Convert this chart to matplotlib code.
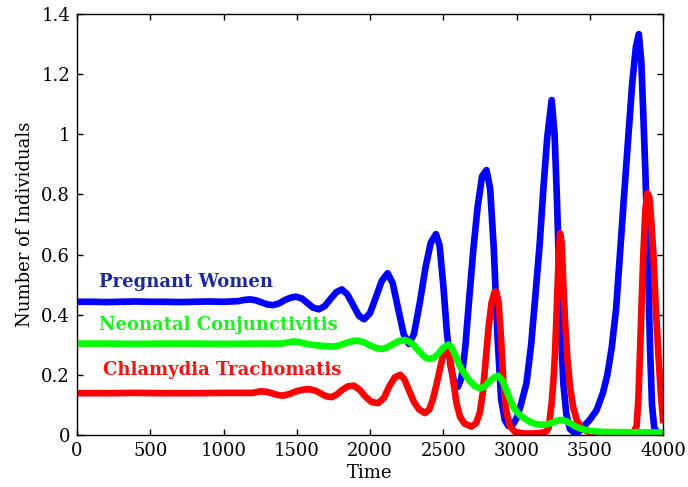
import matplotlib
matplotlib.use('Agg')

import matplotlib.pyplot as plt

# Pregnant Women (blue)
t_women = [0, 100, 200, 300, 400, 500, 600, 700, 800, 900, 1000, 1100, 1140, 1180, 1220,
           1260, 1300, 1340, 1380, 1420, 1460, 1495, 1535, 1570, 1610, 1650, 1690, 1730,
           1770, 1808, 1845, 1885, 1925, 1960, 2000, 2040, 2080, 2120, 2155, 2190, 2230,
           2265, 2300, 2340, 2380, 2415, 2450, 2475, 2500, 2525, 2550, 2575, 2600, 2625,
           2650, 2675, 2705, 2735, 2765, 2795, 2820, 2845, 2870, 2895, 2920, 2945, 2975,
           3000, 3030, 3068, 3100, 3130, 3159, 3185, 3210, 3240, 3260, 3275, 3290, 3305,
           3320, 3340, 3365, 3400, 3430, 3456, 3500, 3547, 3590, 3620, 3650, 3680, 3706,
           3735, 3763, 3790, 3815, 3835, 3852, 3866, 3880, 3895, 3911, 3925, 3940, 3960,
           4000]
women = [0.443, 0.443, 0.442, 0.443, 0.444, 0.443, 0.443, 0.442, 0.443, 0.444, 0.443, 0.445,
         0.449, 0.451, 0.448, 0.441, 0.434, 0.432, 0.438, 0.449, 0.457, 0.460, 0.454, 0.440,
         0.424, 0.418, 0.428, 0.452, 0.475, 0.484, 0.468, 0.432, 0.396, 0.385, 0.405, 0.458,
         0.512, 0.538, 0.505, 0.425, 0.335, 0.303, 0.335, 0.440, 0.560, 0.640, 0.668, 0.630,
         0.500, 0.340, 0.230, 0.175, 0.160, 0.190, 0.290, 0.440, 0.615, 0.760, 0.860, 0.881,
         0.820, 0.620, 0.330, 0.120, 0.050, 0.030, 0.035, 0.055, 0.100, 0.172, 0.300, 0.470,
         0.640, 0.830, 0.990, 1.114, 1.000, 0.800, 0.560, 0.330, 0.170, 0.070, 0.020, 0.005,
         0.012, 0.028, 0.050, 0.083, 0.140, 0.200, 0.290, 0.420, 0.600, 0.800, 0.990, 1.170,
         1.290, 1.333, 1.240, 1.060, 0.870, 0.620, 0.300, 0.100, 0.025, 0.008, 0.005]

# Neonatal Conjunctivitis (green)
t_neo = [0, 200, 400, 600, 800, 1000, 1200, 1400, 1440, 1477, 1515, 1550, 1590, 1620, 1680,
         1750, 1790, 1830, 1870, 1915, 1960, 2000, 2045, 2085, 2120, 2160, 2200, 2238, 2270,
         2300, 2330, 2360, 2385, 2410, 2440, 2470, 2500, 2535, 2555, 2575, 2595, 2614, 2650,
         2680, 2715, 2750, 2780, 2810, 2845, 2875, 2905, 2930, 2955, 2977, 3005, 3030, 3070,
         3105, 3140, 3175, 3205, 3235, 3260, 3290, 3310, 3340, 3370, 3400, 3433, 3470, 3500,
         3560, 3615, 3800, 4000]
neo = [0.304, 0.304, 0.303, 0.304, 0.304, 0.303, 0.304, 0.304, 0.308, 0.311, 0.309, 0.305,
       0.301, 0.299, 0.296, 0.294, 0.298, 0.305, 0.311, 0.314, 0.308, 0.298, 0.289, 0.286,
       0.292, 0.303, 0.313, 0.316, 0.310, 0.298, 0.282, 0.266, 0.256, 0.253, 0.258, 0.272,
       0.290, 0.301, 0.293, 0.272, 0.250, 0.228, 0.200, 0.180, 0.163, 0.155, 0.160, 0.175,
       0.191, 0.197, 0.180, 0.150, 0.120, 0.094, 0.075, 0.063, 0.050, 0.041, 0.036, 0.034,
       0.035, 0.039, 0.044, 0.049, 0.050, 0.046, 0.038, 0.029, 0.022, 0.017, 0.014, 0.011,
       0.010, 0.009, 0.008]

# Chlamydia Trachomatis (red)
t_chl = [0, 200, 400, 600, 800, 1000, 1200, 1250, 1290, 1330, 1370, 1408, 1455, 1500, 1545,
         1590, 1630, 1665, 1700, 1738, 1775, 1810, 1850, 1890, 1930, 1970, 2010, 2056, 2095,
         2130, 2170, 2207, 2235, 2265, 2300, 2335, 2375, 2405, 2430, 2455, 2480, 2505, 2523,
         2545, 2565, 2591, 2615, 2645, 2693, 2725, 2750, 2770, 2790, 2810, 2830, 2850, 2862,
         2878, 2895, 2910, 2930, 2955, 2990, 3050, 3120, 3180, 3205, 3220, 3240, 3255, 3263,
         3275, 3286, 3297, 3308, 3320, 3331, 3348, 3365, 3388, 3411, 3450, 3500, 3600, 3750,
         3800, 3820, 3832, 3843, 3855, 3866, 3880, 3893, 3907, 3920, 3934, 3950, 3968, 3985,
         4000]
chl = [0.139, 0.139, 0.140, 0.139, 0.139, 0.140, 0.140, 0.145, 0.144, 0.139, 0.133, 0.131,
       0.137, 0.146, 0.151, 0.152, 0.147, 0.138, 0.129, 0.126, 0.135, 0.150, 0.162, 0.164,
       0.150, 0.127, 0.110, 0.106, 0.123, 0.160, 0.192, 0.200, 0.185, 0.150, 0.110, 0.085,
       0.073, 0.085, 0.120, 0.170, 0.225, 0.275, 0.292, 0.262, 0.190, 0.105, 0.060, 0.038,
       0.028, 0.040, 0.075, 0.140, 0.250, 0.360, 0.440, 0.475, 0.477, 0.440, 0.320, 0.180,
       0.080, 0.030, 0.010, 0.005, 0.005, 0.008, 0.012, 0.025, 0.106, 0.200, 0.272, 0.420,
       0.570, 0.671, 0.640, 0.500, 0.383, 0.250, 0.161, 0.090, 0.050, 0.020, 0.008, 0.005,
       0.005, 0.010, 0.030, 0.120, 0.272, 0.450, 0.604, 0.750, 0.804, 0.790, 0.710, 0.604,
       0.430, 0.272, 0.140, 0.050]

plt.rcParams['font.family'] = 'DejaVu Serif'

fig = plt.figure(figsize=(6.88, 4.87), dpi=100)
ax = fig.add_axes([77 / 688, 1 - 435 / 487, 586 / 688, 421 / 487])

ax.plot(t_women, women, color='#0000ff', linewidth=4.8, solid_joinstyle='round')
ax.plot(t_chl, chl, color='#ff0000', linewidth=4.8, solid_joinstyle='round')
ax.plot(t_neo, neo, color='#00ff00', linewidth=4.8, solid_joinstyle='round')

ax.text(150, 0.51, 'Pregnant Women', color='#1a2a9a', fontsize=13, fontweight='bold',
        va='center', ha='left')
ax.text(150, 0.365, 'Neonatal Conjunctivitis', color='#22ee22', fontsize=13,
        fontweight='bold', va='center', ha='left')
ax.text(175, 0.216, 'Chlamydia Trachomatis', color='#ff1111', fontsize=13,
        fontweight='bold', va='center', ha='left')

ax.set_xlim(0, 4000)
ax.set_ylim(0, 1.4)
ax.set_xticks([0, 500, 1000, 1500, 2000, 2500, 3000, 3500, 4000])
ax.set_yticks([0, 0.2, 0.4, 0.6, 0.8, 1.0, 1.2, 1.4])
ax.set_yticklabels(['0', '0.2', '0.4', '0.6', '0.8', '1', '1.2', '1.4'])
ax.tick_params(direction='in', length=4, width=1, top=True, right=True,
               labelsize=13, pad=5)
for s in ax.spines.values():
    s.set_linewidth(1)

ax.set_xlabel('Time', fontsize=13, labelpad=3)
ax.set_ylabel('Number of Individuals', fontsize=13, labelpad=5)

plt.savefig('out.png', dpi=100)
plt.close(fig)
